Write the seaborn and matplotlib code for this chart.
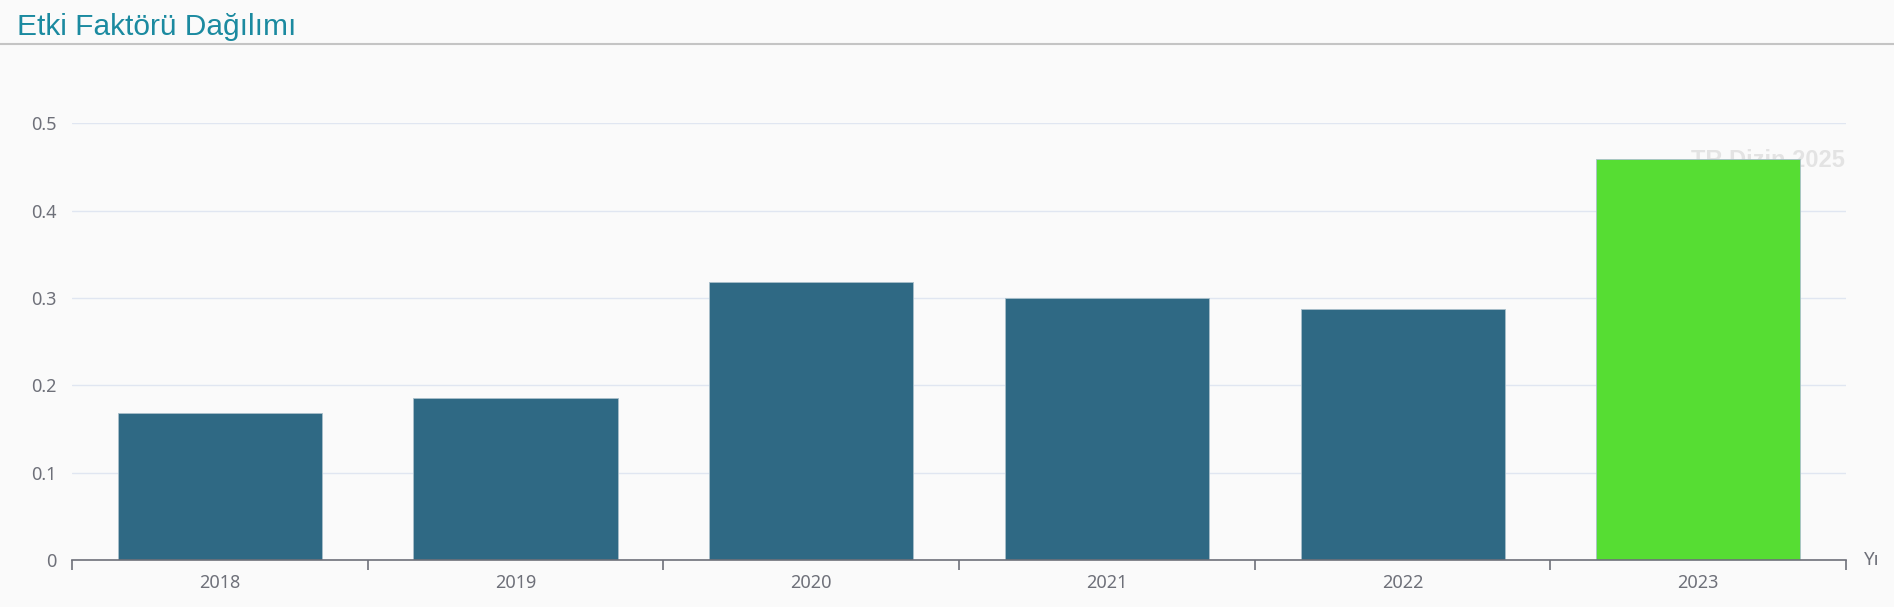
import matplotlib
matplotlib.use("Agg")
import matplotlib.pyplot as plt
import seaborn as sns
import pandas as pd
import numpy as np

years = ["2018", "2019", "2020", "2021", "2022", "2023"]
impact = [0.168, 0.186, 0.318, 0.300, 0.287, 0.459]
bar_colors = ["#2f6984", "#2f6984", "#2f6984", "#2f6984", "#2f6984", "#56dd33"]
y_ticks = [0, 0.1, 0.2, 0.3, 0.4, 0.5]
y_labels = ["0", "0.1", "0.2", "0.3", "0.4", "0.5"]

sns.set_style("white")
plt.rcParams["font.family"] = ["Noto Sans", "DejaVu Sans"]

df = pd.DataFrame({"year": years, "value": impact})

fig = plt.figure(figsize=(18.94, 6.07), dpi=100, facecolor="#fafafa")
ax = fig.add_axes([0.038, 0.0774, 0.9367, 0.7195])
ax.set_facecolor("#fafafa")

sns.barplot(
    data=df,
    x="year",
    y="value",
    hue="year",
    palette=bar_colors,
    saturation=1,
    width=0.69,
    edgecolor="#a9bfca",
    linewidth=0.6,
    legend=False,
    ax=ax,
    zorder=3,
)

ax.set_xlim(-0.5, len(years) - 0.5)
ax.set_ylim(0, 0.5)
ax.set_yticks(y_ticks)
ax.set_yticklabels(y_labels)
ax.yaxis.grid(True, color="#e0e6f1", linewidth=1, zorder=0)
ax.set_axisbelow(True)

for side in ["top", "right", "left"]:
    ax.spines[side].set_visible(False)
ax.spines["bottom"].set_color("#6e7079")
ax.spines["bottom"].set_linewidth(1.2)
ax.spines["bottom"].set_zorder(4)

ax.set_xticks(np.arange(-0.5, len(years), 1.0), minor=True)
ax.tick_params(axis="x", which="major", bottom=True, length=0, pad=10,
               labelsize=13, labelcolor="#6e7079")
ax.tick_params(axis="x", which="minor", bottom=True, length=7, width=1.2,
               color="#6e7079", direction="out")
ax.tick_params(axis="y", length=0, pad=11, labelsize=13, labelcolor="#6e7079")
ax.set_xlabel("")
ax.set_ylabel("")

# axis name at the end of x axis
ax.text(1.01, 0.0, "Yı", transform=ax.transAxes, ha="left", va="center",
        fontsize=13.5, color="#6e7079")

# watermark
ax.text(0.9995, 0.915, "TR Dizin 2025", transform=ax.transAxes, ha="right",
        va="center", fontsize=17, fontweight="bold", color="#e3e3e3", zorder=1,
        family="Liberation Sans")

# title and separator line
fig.text(0.009, 0.955, "Etki Faktörü Dağılımı", ha="left", va="center",
         fontsize=21.5, color="#1b8aa0", family="Liberation Sans")
fig.add_artist(plt.Line2D([0, 1], [1 - 44 / 607, 1 - 44 / 607],
                          transform=fig.transFigure, color="#c4c4c4", linewidth=1.5))

fig.savefig("out.png", dpi=100, facecolor=fig.get_facecolor())
